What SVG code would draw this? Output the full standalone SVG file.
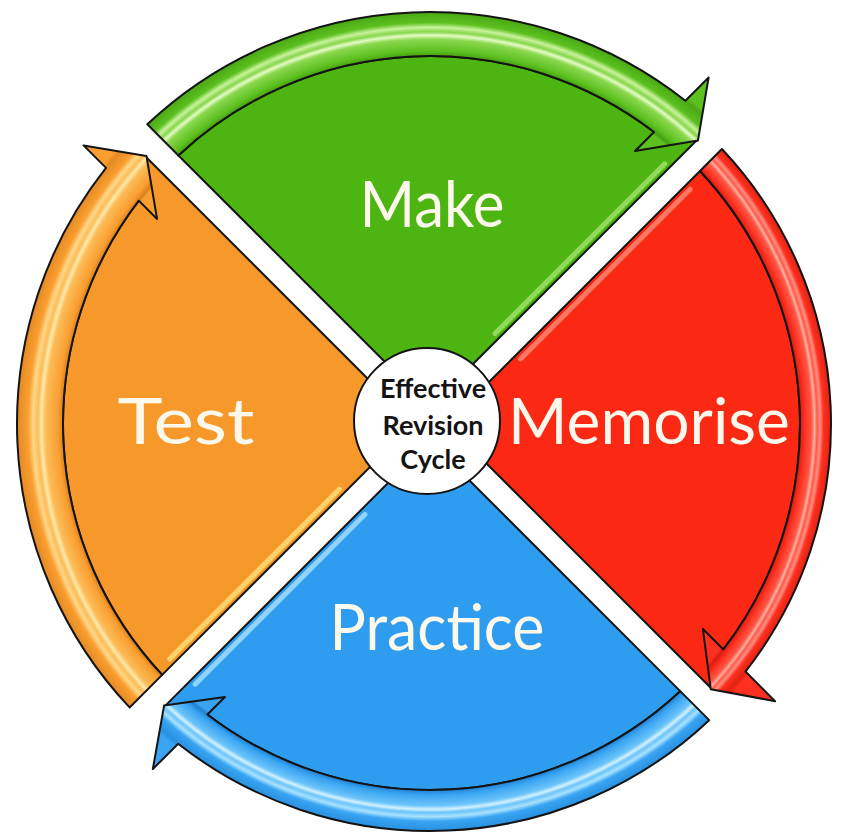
<svg xmlns="http://www.w3.org/2000/svg" width="841" height="836" viewBox="0 0 841 836">
<style>
.edge{stroke:#141414;stroke-width:2;stroke-linejoin:round}
.lbl{font-family:"Lato","Open Sans","Liberation Sans",sans-serif;fill:#fdf8ec;font-size:64px;text-anchor:middle}
.ctr{font-family:"Lato","Open Sans","Liberation Sans",sans-serif;font-weight:bold;font-size:27px;fill:#141414;text-anchor:middle}
.shine{fill:none;stroke-width:5;stroke-linecap:round;opacity:.8}
</style>
<defs>
<radialGradient id="gG" cx="0" cy="0" r="460" gradientUnits="userSpaceOnUse">
<stop offset="0" stop-color="#5cc01f"/><stop offset="0.7935" stop-color="#5cc01f"/><stop offset="0.8" stop-color="#45a010"/><stop offset="0.8109" stop-color="#5cc01f"/><stop offset="0.8363" stop-color="#8ad84e"/><stop offset="0.845" stop-color="#e4fbc4"/><stop offset="0.8526" stop-color="#86d64a"/><stop offset="0.8622" stop-color="#c9f29c"/><stop offset="0.8726" stop-color="#5cc01f"/><stop offset="0.8957" stop-color="#4aa814"/><stop offset="0.9043" stop-color="#5cc01f"/><stop offset="1" stop-color="#5cc01f"/>
</radialGradient>
<radialGradient id="gR" cx="0" cy="0" r="460" gradientUnits="userSpaceOnUse">
<stop offset="0" stop-color="#ff3020"/><stop offset="0.7978" stop-color="#ff3020"/><stop offset="0.8043" stop-color="#d41e10"/><stop offset="0.8152" stop-color="#ff3020"/><stop offset="0.83" stop-color="#ff5a48"/><stop offset="0.8361" stop-color="#ffb0a4"/><stop offset="0.8414" stop-color="#ff5a48"/><stop offset="0.8482" stop-color="#ff8e80"/><stop offset="0.8557" stop-color="#ff3020"/><stop offset="0.8717" stop-color="#e0220f"/><stop offset="0.8804" stop-color="#ff3020"/><stop offset="1" stop-color="#ff3020"/>
</radialGradient>
<radialGradient id="gB" cx="0" cy="0" r="460" gradientUnits="userSpaceOnUse">
<stop offset="0" stop-color="#38a4f2"/><stop offset="0.7891" stop-color="#38a4f2"/><stop offset="0.7957" stop-color="#1f80d0"/><stop offset="0.8065" stop-color="#38a4f2"/><stop offset="0.8296" stop-color="#6cc4fa"/><stop offset="0.8376" stop-color="#d2f1ff"/><stop offset="0.8448" stop-color="#6cc4fa"/><stop offset="0.8537" stop-color="#a8e2ff"/><stop offset="0.8635" stop-color="#38a4f2"/><stop offset="0.8848" stop-color="#2890e0"/><stop offset="0.8935" stop-color="#38a4f2"/><stop offset="1" stop-color="#38a4f2"/>
</radialGradient>
<radialGradient id="gO" cx="0" cy="0" r="460" gradientUnits="userSpaceOnUse">
<stop offset="0" stop-color="#fa9e30"/><stop offset="0.7913" stop-color="#fa9e30"/><stop offset="0.7978" stop-color="#d8801c"/><stop offset="0.8087" stop-color="#fa9e30"/><stop offset="0.8359" stop-color="#fcbc58"/><stop offset="0.8448" stop-color="#ffe9a8"/><stop offset="0.8528" stop-color="#fcbc58"/><stop offset="0.8628" stop-color="#ffd888"/><stop offset="0.8739" stop-color="#fa9e30"/><stop offset="0.8978" stop-color="#e48a22"/><stop offset="0.9065" stop-color="#fa9e30"/><stop offset="1" stop-color="#fa9e30"/>
</radialGradient>
</defs>
<rect width="841" height="836" fill="#ffffff"/>

<g id="make" transform="translate(430 424)">
<path class="edge" fill="#4db512" d="M0,-17 L-251.59,-268.56 A368,368 0 0 1 224.05,-291.94 L267.29,-284.26 Z"/>
<line class="shine" x1="65.1" y1="-90.5" x2="234.8" y2="-260.2" stroke="#a4e36a"/>
</g>
<g id="memorise" transform="translate(430 424) rotate(90)">
<path class="edge" fill="#fb2814" d="M0,-17 L-253.01,-269.98 A370,370 0 0 1 225.47,-293.36 L264.46,-281.43 Z"/>
<line class="shine" x1="-65.1" y1="-90.5" x2="-234.8" y2="-260.2" stroke="#ff8a78"/>
</g>
<g id="practice" transform="translate(430 424) rotate(180)">
<path class="edge" fill="#2f9def" d="M0,-17 L-250.18,-267.15 A366,366 0 0 1 222.63,-290.51 L265.17,-282.14 Z"/>
<line class="shine" x1="65.1" y1="-90.5" x2="234.8" y2="-260.2" stroke="#a6e2ff"/>
</g>
<g id="test" transform="translate(430 424) rotate(270)">
<path class="edge" fill="#f7992a" d="M0,-17 L-250.88,-267.85 A367,367 0 0 1 223.34,-291.22 L267.29,-284.26 Z"/>
<line class="shine" x1="-65.1" y1="-90.5" x2="-234.8" y2="-260.2" stroke="#ffe27a"/>
</g>

<g id="connectors">
<path class="edge" fill="url(#gG)" transform="translate(430 424)" d="M-282.72,-299.69 A412,412 0 0 1 255.40,-323.28 L278.60,-346.48 L268.0,-283.55 L205.06,-272.94 L224.05,-291.94 A368,368 0 0 0 -251.59,-268.56 Z"/>
<path class="edge" fill="url(#gR)" transform="translate(430 424) rotate(90)" d="M-274.94,-291.91 A401,401 0 0 1 247.57,-315.46 L277.19,-345.07 L265.17,-280.72 L205.06,-272.94 L225.47,-293.36 A370,370 0 0 0 -253.01,-269.98 Z"/>
<path class="edge" fill="url(#gB)" transform="translate(430 424) rotate(180)" d="M-279.18,-296.15 A407,407 0 0 1 251.84,-319.72 L277.19,-345.07 L265.87,-281.43 L205.06,-272.94 L222.63,-290.51 A366,366 0 0 0 -250.18,-267.15 Z"/>
<path class="edge" fill="url(#gO)" transform="translate(430 424) rotate(270)" d="M-283.43,-300.40 A413,413 0 0 1 256.12,-324.00 L278.60,-346.48 L268.0,-283.55 L205.06,-272.94 L223.34,-291.22 A367,367 0 0 0 -250.88,-267.85 Z"/>
</g>

<g id="labels">
<text class="lbl" x="432" y="227" textLength="145" lengthAdjust="spacingAndGlyphs">Make</text>
<text class="lbl" x="649" y="444" textLength="282" lengthAdjust="spacingAndGlyphs">Memorise</text>
<text class="lbl" x="437" y="650" textLength="215" lengthAdjust="spacingAndGlyphs">Practice</text>
<text class="lbl" x="186" y="444" textLength="137" lengthAdjust="spacingAndGlyphs">Test</text>
</g>

<g id="center">
<circle cx="427" cy="421" r="73" fill="#ffffff" stroke="#141414" stroke-width="2"/>
<text class="ctr" x="433" y="398">Effective</text>
<text class="ctr" x="433" y="435">Revision</text>
<text class="ctr" x="433" y="469">Cycle</text>
</g>
</svg>
